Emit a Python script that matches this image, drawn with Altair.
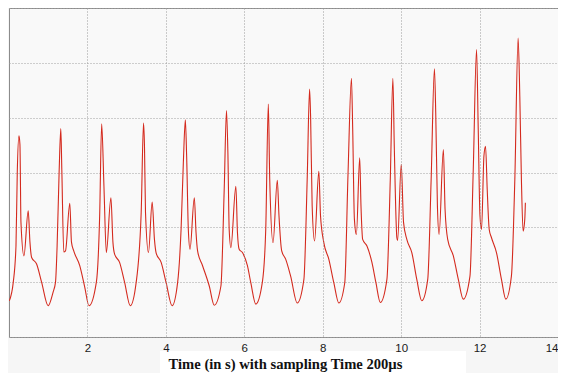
import altair as alt
import pandas as pd

# Time (s) and signal amplitude (grid units)
t = [0.008, 0.109, 0.178, 0.211, 0.254, 0.279, 0.305, 0.381, 0.490, 0.534, 0.577, 0.704, 0.831, 0.998,
     1.125, 1.186, 1.227, 1.278, 1.321, 1.347, 1.397, 1.441, 1.550, 1.593, 1.651, 1.804, 1.931, 2.040,
     2.228, 2.312, 2.363, 2.421, 2.482, 2.599, 2.650, 2.693, 2.820, 2.947, 3.092,
     3.244, 3.371, 3.430, 3.455, 3.481, 3.557, 3.651, 3.709, 3.753, 3.880, 4.007, 4.159,
     4.301, 4.388, 4.446, 4.497, 4.530, 4.573, 4.616, 4.726, 4.769, 4.809, 4.936, 5.107, 5.234,
     5.404, 5.488, 5.546, 5.582, 5.615, 5.658, 5.785, 5.826, 5.869, 5.953, 6.080, 6.166, 6.293,
     6.461, 6.547, 6.613, 6.649, 6.733, 6.842, 6.885, 6.954, 7.055, 7.182, 7.350,
     7.520, 7.604, 7.665, 7.691, 7.731, 7.792, 7.901, 7.944, 8.028, 8.155, 8.283, 8.410,
     8.562, 8.646, 8.732, 8.765, 8.808, 8.859, 8.943, 8.976, 9.019, 9.128, 9.255, 9.357, 9.469,
     9.637, 9.723, 9.789, 9.825, 9.891, 9.909, 10.003, 10.061, 10.145, 10.272, 10.399, 10.526,
     10.678, 10.765, 10.849, 10.882, 10.925, 10.968, 11.077, 11.120, 11.187, 11.331, 11.458, 11.585,
     11.755, 11.839, 11.923, 11.966, 12.010, 12.050, 12.111, 12.152, 12.195, 12.246, 12.304, 12.431,
     12.558, 12.670, 12.812, 12.899, 12.983, 13.026, 13.067, 13.110, 13.153, 13.168]
v = [0.66, 1.00, 1.66, 3.00, 3.67, 3.51, 2.09, 1.48, 2.30, 1.73, 1.45, 1.33, 1.00, 0.57,
     0.82, 1.00, 1.66, 3.00, 3.80, 3.05, 1.55, 1.57, 2.44, 1.73, 1.57, 1.30, 0.91, 0.57,
     1.00, 2.21, 3.89, 2.75, 1.54, 2.54, 1.73, 1.51, 1.36, 1.00, 0.57,
     1.00, 2.27, 3.90, 3.48, 2.27, 1.54, 2.46, 1.78, 1.53, 1.36, 0.99, 0.57,
     1.00, 1.96, 3.18, 3.96, 3.30, 1.96, 1.60, 2.54, 1.91, 1.57, 1.30, 0.93, 0.58,
     0.93, 2.69, 4.13, 3.36, 1.96, 1.63, 2.75, 1.90, 1.60, 1.54, 1.30, 0.99, 0.60,
     1.00, 1.96, 4.25, 2.87, 1.72, 2.86, 2.21, 1.57, 1.42, 1.11, 0.62,
     1.05, 2.87, 4.52, 4.02, 2.39, 1.75, 3.02, 2.21, 1.72, 1.42, 0.99, 0.62,
     0.99, 2.99, 4.72, 3.78, 2.15, 1.87, 3.27, 2.39, 1.78, 1.66, 1.36, 0.99, 0.63,
     1.05, 2.87, 4.72, 3.48, 1.81, 1.76, 3.15, 2.09, 1.78, 1.54, 1.05, 0.66,
     1.05, 2.87, 4.89, 4.09, 2.39, 1.87, 3.42, 2.33, 1.78, 1.48, 1.05, 0.69,
     1.11, 3.05, 5.24, 3.78, 2.21, 1.96, 3.30, 3.48, 2.69, 1.96, 1.81, 1.54,
     1.05, 0.69, 1.11, 2.87, 5.45, 4.39, 2.87, 1.93, 2.15, 2.45]

x_ticks = [2, 4, 6, 8, 10, 12, 14]
y_ticks = [0, 1, 2, 3, 4, 5, 6]
x_title = "Time (in s) with sampling Time 200µs"

df = pd.DataFrame({"t": t, "v": v})

W, H = 549, 329

title_box = alt.Chart(pd.DataFrame({"a": [0]})).mark_rect(
    color="white", clip=False
).encode(
    x=alt.value(151), x2=alt.value(457), y=alt.value(343), y2=alt.value(370)
)

line = alt.Chart(df).mark_line(
    color="#d42a1e", strokeWidth=1.1, interpolate="monotone", clip=True
).encode(
    x=alt.X("t:Q", scale=alt.Scale(domain=[0, 14], nice=False),
            axis=alt.Axis(values=x_ticks, grid=True, gridColor="#9a9a9a", gridDash=[1, 2],
                          gridWidth=1, ticks=False, domain=False, zindex=1,
                          labelFont="Liberation Sans", labelFontSize=11.5, labelColor="#1a1a1a",
                          labelPadding=5, title=x_title,
                          titleFont="Liberation Serif", titleFontSize=14.6, titleFontWeight="bold",
                          titleColor="#111", titleX=276, titleY=31, titleBaseline="alphabetic",
                          titleAlign="center")),
    y=alt.Y("v:Q", scale=alt.Scale(domain=[0, 6], nice=False),
            axis=alt.Axis(values=y_ticks, grid=True, gridColor="#a0a0a0", gridDash=[1, 2],
                          gridWidth=1, ticks=False, labels=False, domain=False, title=None)),
)

chart = alt.layer(title_box, line).properties(
    width=W, height=H,
    background="#f6f6f6",
    padding={"left": 1, "top": 0, "right": 0, "bottom": 36},
    autosize=alt.AutoSizeParams(type="none"),
).configure_view(
    fill="#f9f9f9", stroke="#8c8c8c", strokeWidth=1
)

chart.save("out.html", embed_options={"renderer": "svg", "actions": False})
